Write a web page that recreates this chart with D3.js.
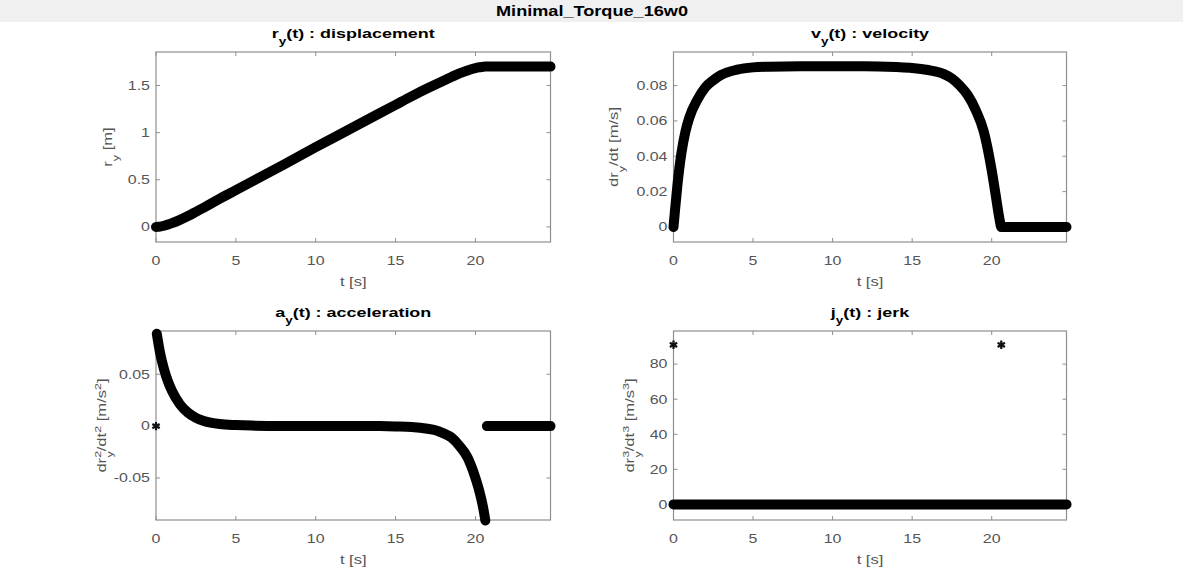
<!DOCTYPE html>
<html>
<head>
<meta charset="utf-8">
<script src="https://cdn.jsdelivr.net/npm/d3@7"></script>
<style>
body { margin: 0; background: #fff; }
svg { display: block; font-family: "Liberation Sans", Arial, sans-serif; }
</style>
</head>
<body>
<svg width="1183" height="579"></svg>
<script>
"use strict";
// values
var figTitle = "Minimal_Torque_16w0";

var timeS = [0, 0.1, 0.25, 0.5, 0.75, 1, 1.5, 2, 2.5, 3, 4, 5, 6, 8, 10, 12, 14, 15, 16, 17, 17.5, 18, 18.5, 19, 19.5, 20, 20.25, 20.5, 20.6, 20.75, 22, 24.7];
var rDisp = [0, 0.0005, 0.003, 0.012, 0.025, 0.04, 0.075, 0.115, 0.16, 0.205, 0.3, 0.39, 0.48, 0.66, 0.845, 1.025, 1.205, 1.295, 1.385, 1.47, 1.51, 1.55, 1.59, 1.628, 1.66, 1.685, 1.693, 1.699, 1.7, 1.7, 1.7, 1.7];
var vVel = [0, 0.01, 0.024, 0.042, 0.054, 0.062, 0.072, 0.079, 0.083, 0.086, 0.089, 0.0903, 0.0907, 0.091, 0.091, 0.091, 0.0905, 0.09, 0.0888, 0.0865, 0.084, 0.08, 0.0745, 0.066, 0.054, 0.032, 0.018, 0.004, 0, 0, 0, 0];

var accT = [0.05, 0.25, 0.5, 0.75, 1, 1.5, 2, 2.5, 3, 4, 5, 6, 8, 10, 12, 14, 15, 16, 17, 17.5, 18, 18.5, 19, 19.5, 20, 20.25, 20.5, 20.62, 20.7, 20.72, 22, 24.7];
var accV = [0.089, 0.071, 0.055, 0.043, 0.034, 0.021, 0.013, 0.008, 0.005, 0.002, 0.001, 0.0005, 0.0002, 0.0002, 0.0002, 0, -0.0003, -0.0008, -0.0025, -0.004, -0.007, -0.011, -0.019, -0.03, -0.05, -0.063, -0.08, -0.091, null, 0, 0, 0];
var accStartT = [0];
var accStartV = [0];

var jerkT = [0, 5, 10, 15, 20, 24.7];
var jerkV = [0, 0, 0, 0, 0, 0];
var jerkSpikeT = [0, 20.6];
var jerkSpikeV = [91, 91];

var tTicks = [0, 5, 10, 15, 20];
var rTicks = [0, 0.5, 1, 1.5];
var vTicks = [0, 0.02, 0.04, 0.06, 0.08];
var aTicks = [-0.05, 0, 0.05];
var jTicks = [0, 20, 40, 60, 80];

var SX = 1.33; // glyphs in the figure are drawn wide

var svg = d3.select("svg");

svg.append("rect").attr("x", 0).attr("y", 0).attr("width", 1183).attr("height", 22).attr("fill", "#f0f0f0");
svg.append("text")
    .attr("transform", "translate(592,15.5) scale(1.25,1)")
    .attr("text-anchor", "middle")
    .attr("font-size", 14.5).attr("font-weight", "bold")
    .text(figTitle);

function rich(sel, parts, size) {
    var shift = 0;
    parts.forEach(function (p) {
        var target = p.s === "sup" ? -0.42 * size : p.s === "sub" ? 0.55 * size : 0;
        var ts = sel.append("tspan").attr("dy", target - shift).text(p.t);
        if (p.s) ts.attr("font-size", size * 0.75);
        if (p.back) ts.attr("dx", -p.back);
        shift = target;
    });
}

var panels = [
    {left: 156, right: 550.5, top: 52, bottom: 242, ydom: [-0.16, 1.855], ticks: rTicks,
        title: [{t: "r"}, {t: "y", s: "sub"}, {t: "(t) : displacement"}],
        ylab: [{t: "r"}, {t: "y", s: "sub"}, {t: " [m]"}], ylabX: 112,
        lines: [[timeS, rDisp]], marks: []},
    {left: 673.5, right: 1066.5, top: 52, bottom: 242, ydom: [-0.0085, 0.099], ticks: vTicks,
        title: [{t: "v"}, {t: "y", s: "sub"}, {t: "(t) : velocity"}],
        ylab: [{t: "dr"}, {t: "y", s: "sub"}, {t: "/dt [m/s]"}], ylabX: 618,
        lines: [[timeS, vVel]], marks: []},
    {left: 156, right: 550.5, top: 331, bottom: 520, ydom: [-0.0905, 0.0917], ticks: aTicks,
        title: [{t: "a"}, {t: "y", s: "sub"}, {t: "(t) : acceleration"}],
        ylab: [{t: "dr"}, {t: "2", s: "sup"}, {t: "y", s: "sub", back: 5}, {t: "/dt"}, {t: "2", s: "sup"}, {t: " [m/s"}, {t: "2", s: "sup"}, {t: "]"}], ylabX: 106,
        lines: [[accT, accV]], marks: [[accStartT, accStartV]]},
    {left: 673.5, right: 1066.5, top: 331, bottom: 520, ydom: [-8.9, 98.9], ticks: jTicks,
        title: [{t: "j"}, {t: "y", s: "sub"}, {t: "(t) : jerk"}],
        ylab: [{t: "dr"}, {t: "3", s: "sup"}, {t: "y", s: "sub", back: 5}, {t: "/dt"}, {t: "3", s: "sup"}, {t: " [m/s"}, {t: "3", s: "sup"}, {t: "]"}], ylabX: 634,
        lines: [[jerkT, jerkV]], marks: [[jerkSpikeT, jerkSpikeV]]}
];

var axisColor = "#8f8f8f",
    labelColor = "#555";

panels.forEach(function (p) {
    var x = d3.scaleLinear().domain([0, 24.7]).range([p.left, p.right]),
        y = d3.scaleLinear().domain(p.ydom).range([p.bottom, p.top]);
    var g = svg.append("g");

    g.append("rect")
        .attr("x", p.left).attr("y", p.top)
        .attr("width", p.right - p.left).attr("height", p.bottom - p.top)
        .attr("fill", "#fff").attr("stroke", axisColor).attr("stroke-width", 1.2);

    // inward ticks on all four sides
    var tl = 4;
    g.selectAll(".xt").data(tTicks).enter().append("path")
        .attr("d", function (d) {
            var px = x(d);
            return "M" + px + "," + p.bottom + "v" + (-tl) + "M" + px + "," + p.top + "v" + tl;
        })
        .attr("stroke", axisColor);
    g.selectAll(".yt").data(p.ticks).enter().append("path")
        .attr("d", function (d) {
            var py = y(d);
            return "M" + p.left + "," + py + "h" + tl + "M" + p.right + "," + py + "h" + (-tl);
        })
        .attr("stroke", axisColor);

    g.selectAll(".xl").data(tTicks).enter().append("text")
        .attr("transform", function (d) { return "translate(" + x(d) + "," + (p.bottom + 22.5) + ") scale(" + SX + ",1)"; })
        .attr("text-anchor", "middle").attr("font-size", 12).attr("fill", labelColor)
        .text(String);
    g.selectAll(".yl").data(p.ticks).enter().append("text")
        .attr("transform", function (d) { return "translate(" + (p.left - 6) + "," + (y(d) + 4.3) + ") scale(" + SX + ",1)"; })
        .attr("text-anchor", "end").attr("font-size", 12).attr("fill", labelColor)
        .text(String);

    g.append("text")
        .attr("transform", "translate(" + ((p.left + p.right) / 2) + "," + (p.bottom + 44) + ") scale(" + SX + ",1)")
        .attr("text-anchor", "middle").attr("font-size", 12.5).attr("fill", labelColor)
        .text("t [s]");

    var yl = g.append("text")
        .attr("transform", "translate(" + p.ylabX + "," + ((p.top + p.bottom) / 2) + ") rotate(-90) scale(" + SX + ",1)")
        .attr("text-anchor", "middle").attr("font-size", 12.5).attr("fill", labelColor);
    rich(yl, p.ylab, 12.5);

    var tt = g.append("text")
        .attr("transform", "translate(" + ((p.left + p.right) / 2) + "," + (p.top - 14) + ") scale(" + SX + ",1)")
        .attr("text-anchor", "middle").attr("font-size", 13.5).attr("font-weight", "bold").attr("fill", "#000");
    rich(tt, p.title, 13.5);

    var line = d3.line()
        .defined(function (d) { return d[1] != null; })
        .x(function (d) { return x(d[0]); })
        .y(function (d) { return y(d[1]); })
        .curve(d3.curveMonotoneX);

    p.lines.forEach(function (s) {
        g.append("path")
            .datum(d3.zip(s[0], s[1]))
            .attr("d", line)
            .attr("fill", "none").attr("stroke", "#000")
            .attr("stroke-width", 10)
            .attr("stroke-linecap", "round").attr("stroke-linejoin", "round");
    });

    p.marks.forEach(function (s) {
        g.selectAll(null).data(d3.zip(s[0], s[1])).enter().append("path")
            .attr("transform", function (d) { return "translate(" + x(d[0]) + "," + y(d[1]) + ")"; })
            .attr("d", d3.symbol(d3.symbolAsterisk, 50))
            .attr("fill", "none").attr("stroke", "#111").attr("stroke-width", 2.2);
    });
});
</script>
</body>
</html>
